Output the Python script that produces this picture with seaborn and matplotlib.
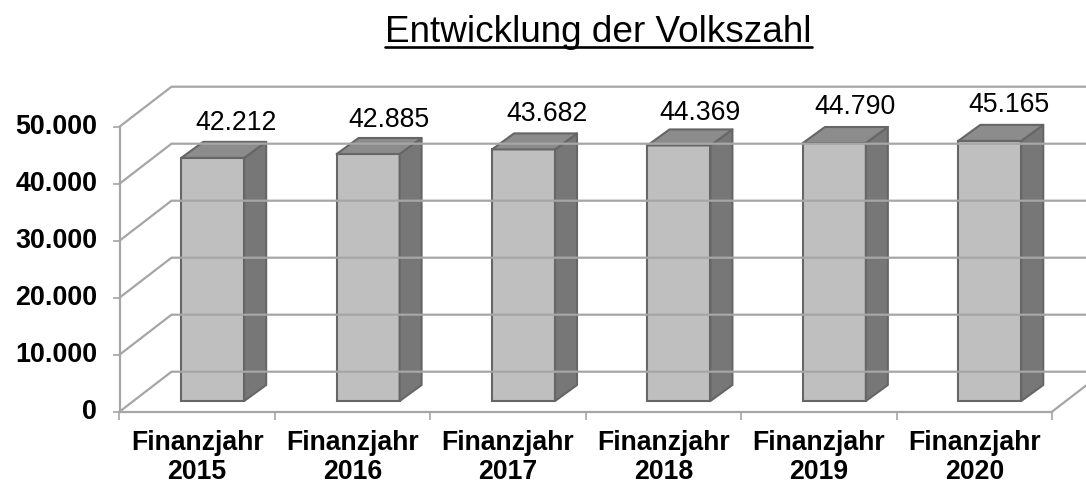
import matplotlib
matplotlib.use("Agg")
import matplotlib.pyplot as plt
import pandas as pd
import seaborn as sns
from matplotlib.patches import Polygon
from matplotlib.lines import Line2D
from matplotlib.transforms import Affine2D, IdentityTransform

title = "Entwicklung der Volkszahl"
categories = ["Finanzjahr\n2015", "Finanzjahr\n2016", "Finanzjahr\n2017",
              "Finanzjahr\n2018", "Finanzjahr\n2019", "Finanzjahr\n2020"]
values = [42212, 42885, 43682, 44369, 44790, 45165]
y_ticks = [0, 10000, 20000, 30000, 40000, 50000]

W, H = 1086, 484
GRID = "#a6a6a6"
FRONT, SIDE, TOP, EDGE = "#bfbfbf", "#777777", "#8c8c8c", "#666666"
WALL_DX, WALL_DY = 52, 40      # depth of the floor, px
BAR_DX, BAR_DY = 22, 16        # depth of a bar, px
# hand placement of the value labels relative to each bar, px
LABEL_DX = [23.5, 21, 23, 21, 20.5, 19]
LABEL_DY = [34.5, 33.5, 35.5, 32.5, 36.5, 35.5]

sns.set_theme(style="white")
plt.rcParams["font.family"] = ["Liberation Sans", "DejaVu Sans"]

fig = plt.figure(figsize=(W / 100, H / 100), dpi=100)
left, right, top, bottom = 119.5, 1052, 126.7, 411.7
ax = fig.add_axes([left / W, (H - bottom) / H, (right - left) / W, (bottom - top) / H])

df = pd.DataFrame({"jahr": categories, "wert": values})
sns.barplot(data=df, x="jahr", y="wert", color=FRONT, saturation=1, width=0.405,
            ax=ax, zorder=3)
ax.set_xlim(-0.5, 5.5)
ax.set_ylim(0, 50000)
ax.set_autoscale_on(False)
ax.set_xlabel("")
ax.set_ylabel("")
ax.set_facecolor("none")
ax.grid(False)

# axes
for s in ["top", "right"]:
    ax.spines[s].set_visible(False)
for s in ["left", "bottom"]:
    ax.spines[s].set_color(GRID)
    ax.spines[s].set_linewidth(1.6)
ax.set_yticks(y_ticks)
ax.set_yticklabels([f"{t:,}".replace(",", ".") for t in y_ticks],
                   fontsize=19.4, fontweight="bold", color="black", va="center")
ax.tick_params(axis="y", left=True, length=5, width=1.2, color=GRID, pad=11)
ax.set_xticks(range(len(categories)))
ax.set_xticklabels(categories, fontsize=19.2, fontweight="bold", color="black", linespacing=1.16)
ax.tick_params(axis="x", which="major", bottom=False, length=0, pad=13)
ax.set_xticks([i - 0.5 for i in range(len(categories) + 1)], minor=True)
ax.tick_params(axis="x", which="minor", bottom=True, length=6, width=1.2, color=GRID)

# back wall and floor
def px(x, y):
    return ax.transData.transform((x, y))

for t in y_ticks:
    x0, y0 = px(-0.5, t)
    fig.add_artist(Line2D([x0, x0 + WALL_DX, W], [y0, y0 + WALL_DY, y0 + WALL_DY],
                          transform=IdentityTransform(), color=GRID, lw=1.6, zorder=1))
x1, y1 = px(5.5, 0)
fig.add_artist(Line2D([x1, x1 + WALL_DX], [y1, y1 + WALL_DY],
                      transform=IdentityTransform(), color=GRID, lw=1.6, zorder=1))

# the bars sit on a plane slightly behind the axis plane
base_front = H - bottom
plane = Affine2D().translate(0, -base_front).scale(1, 1.0105).translate(15.5, H - 401)
for i, p in enumerate(ax.patches[:len(values)]):
    p.set_transform(ax.transData + plane)
    p.set_edgecolor(EDGE)
    p.set_linewidth(1.5)
    p.set_clip_on(False)
    bb = p.get_window_extent()
    xa, xb, ya, yb = bb.x0, bb.x1, bb.y0, bb.y1
    side = [(xb, ya), (xb + BAR_DX, ya + BAR_DY), (xb + BAR_DX, yb + BAR_DY), (xb, yb)]
    roof = [(xa, yb), (xa + BAR_DX, yb + BAR_DY), (xb + BAR_DX, yb + BAR_DY), (xb, yb)]
    for pts, c in [(side, SIDE), (roof, TOP)]:
        ax.add_patch(Polygon(pts, closed=True, transform=IdentityTransform(), facecolor=c,
                             edgecolor=EDGE, lw=1.5, clip_on=False, zorder=3.5, joinstyle="round"))
    ax.text((xa + xb) / 2 + LABEL_DX[i], yb + LABEL_DY[i],
            f"{values[i]:,}".replace(",", "."), transform=IdentityTransform(),
            ha="center", va="center", fontsize=19.2, color="black", zorder=5, clip_on=False)

# title with underline
cx, base = 598.5, 42
ttl = fig.text(cx / W, (H - base) / H, title, ha="center", va="baseline",
               fontsize=26.6, color="black")
fig.canvas.draw()
tb = ttl.get_window_extent()
fig.add_artist(Line2D([tb.x0, tb.x1], [H - 47, H - 47],
                      transform=IdentityTransform(), color="black", lw=1.9))

fig.savefig("out.png", dpi=100, facecolor="white")
